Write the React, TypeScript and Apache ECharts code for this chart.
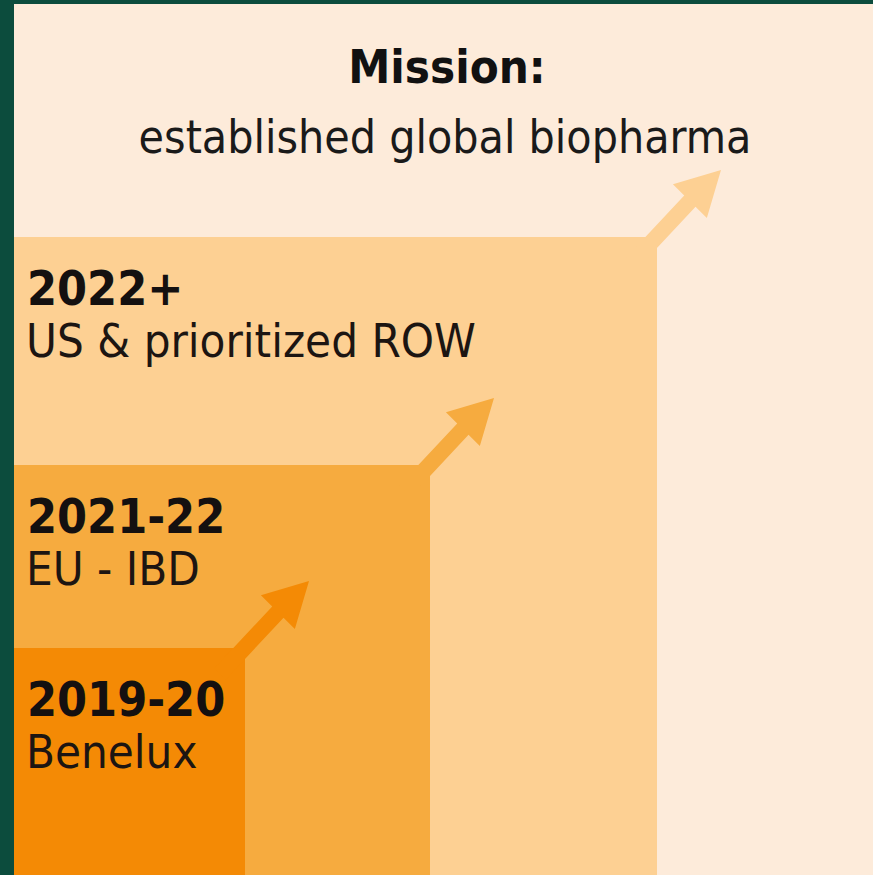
import React, { useEffect, useRef } from "react";
import * as echarts from "echarts";

// Stages of the roadmap (from first to latest)
const steps = ["2019-20", "2021-22", "2022+"];
const regions = ["Benelux", "EU - IBD", "US & prioritized ROW"];
// Extent of each stage block (horizontal reach, vertical level), in chart units
const stepReach = [231, 416, 643];
const stepLevel = [227, 410, 638];
const stepColors = ["#F48A05", "#F6AB3F", "#FDD093"];
const missionTitle = "Mission:";
const missionText = "established global biopharma";

const FONT = "'DejaVu Sans Condensed', 'DejaVu Sans', sans-serif";

export default function App() {
  const ref = useRef<HTMLDivElement>(null);
  useEffect(() => {
    if (!ref.current) return;
    const chart = echarts.init(ref.current, undefined, { renderer: "svg" });
    const order = [2, 1, 0];
    const data = order.map((i) => [stepReach[i], stepLevel[i], i]);

    const renderItem = (params: any, api: any) => {
      const reach = api.value(0);
      const level = api.value(1);
      const idx = api.value(2);
      const p0 = api.coord([0, 0]);
      const p1 = api.coord([reach, level]);
      const color = stepColors[idx];
      const cx = p1[0];
      const cy = p1[1];
      // arrow geometry
      const tip = [cx + 64, cy - 67];
      const len = Math.hypot(1, 1.0);
      const u = [1 / len, -1.0 / len];
      const n = [-u[1], u[0]];
      const headLen = 44;
      const shaftHalf = 8;
      const headHalf = 24;
      const B = [tip[0] - u[0] * headLen, tip[1] - u[1] * headLen];
      const S = [cx - 25, cy + 26];
      const pt = (base: number[], k: number) => [base[0] + n[0] * k, base[1] + n[1] * k];
      const poly = [
        pt(S, shaftHalf),
        pt(B, shaftHalf),
        pt(B, headHalf),
        tip,
        pt(B, -headHalf),
        pt(B, -shaftHalf),
        pt(S, -shaftHalf),
      ];
      return {
        type: "group",
        children: [
          {
            type: "rect",
            shape: { x: p0[0], y: p1[1], width: p1[0] - p0[0], height: p0[1] - p1[1] },
            style: { fill: color },
          },
          {
            type: "polygon",
            shape: { points: poly },
            style: { fill: color },
          },
          {
            type: "text",
            style: {
              x: p0[0] + 13,
              y: cy + 51,
              text: steps[idx],
              font: `bold 48px ${FONT}`,
              fill: "#141010",
              verticalAlign: "middle",
              align: "left",
            },
            z2: 10,
          },
          {
            type: "text",
            style: {
              x: p0[0] + 12,
              y: cy + 103,
              text: regions[idx],
              font: `47px ${FONT}`,
              fill: "#1c1512",
              verticalAlign: "middle",
              align: "left",
            },
            z2: 10,
          },
        ],
      };
    };

    chart.setOption({
      animation: false,
      backgroundColor: "#0C4C3D",
      grid: {
        left: 14,
        right: 0,
        top: 4,
        bottom: 0,
        show: true,
        backgroundColor: "#FDEBDA",
        borderWidth: 0,
      },
      xAxis: { type: "value", min: 0, max: 859, show: false },
      yAxis: { type: "value", min: 0, max: 871, show: false },
      graphic: [
        {
          type: "text",
          z: 100,
          style: {
            x: 447,
            y: 66,
            text: missionTitle,
            font: `bold 47px ${FONT}`,
            fill: "#111111",
            align: "center",
            verticalAlign: "middle",
          },
        },
        {
          type: "text",
          z: 100,
          style: {
            x: 445,
            y: 137,
            text: missionText,
            font: `46px ${FONT}`,
            fill: "#1a1a1a",
            align: "center",
            verticalAlign: "middle",
          },
        },
      ],
      series: [
        {
          type: "custom",
          renderItem,
          data,
          silent: true,
          clip: false,
        },
      ],
    });
    return () => chart.dispose();
  }, []);
  return (
    <div
      ref={ref}
      style={{ position: "absolute", left: 0, top: 0, width: 873, height: 875 }}
    />
  );
}
